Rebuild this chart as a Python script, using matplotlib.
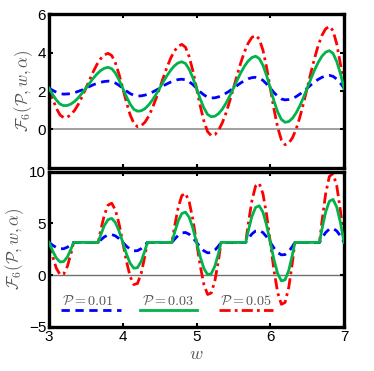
import matplotlib
matplotlib.use("Agg")
import matplotlib.pyplot as plt
from matplotlib.lines import Line2D

plt.rcParams['font.family'] = ['Liberation Sans', 'DejaVu Sans']
plt.rcParams['mathtext.fontset'] = 'cm'

# ---------------- data: top panel ----------------
w_top = [round(3 + 0.05 * i, 2) for i in range(81)]

top_p001 = [2.15, 2.04, 1.94, 1.87, 1.84, 1.85, 1.87, 1.92, 1.99, 2.06,
            2.15, 2.24, 2.33, 2.40, 2.46, 2.50, 2.52, 2.50, 2.42, 2.30,
            2.15, 2.00, 1.87, 1.78, 1.74, 1.75, 1.79, 1.85, 1.94, 2.04,
            2.15, 2.27, 2.38, 2.47, 2.55, 2.60, 2.62, 2.59, 2.49, 2.34,
            2.15, 1.96, 1.80, 1.68, 1.64, 1.65, 1.70, 1.78, 1.89, 2.01,
            2.15, 2.29, 2.43, 2.54, 2.64, 2.70, 2.72, 2.68, 2.56, 2.37,
            2.15, 1.92, 1.73, 1.59, 1.54, 1.56, 1.61, 1.71, 1.84, 1.99,
            2.15, 2.32, 2.48, 2.61, 2.72, 2.79, 2.82, 2.77, 2.63, 2.41,
            2.15]
top_p003 = [2.15, 1.82, 1.53, 1.32, 1.24, 1.25, 1.33, 1.47, 1.66, 1.90,
            2.15, 2.41, 2.67, 2.89, 3.07, 3.19, 3.24, 3.17, 2.94, 2.58,
            2.15, 1.71, 1.32, 1.05, 0.95, 0.97, 1.08, 1.27, 1.52, 1.82,
            2.15, 2.49, 2.81, 3.09, 3.32, 3.47, 3.53, 3.44, 3.14, 2.69,
            2.15, 1.59, 1.12, 0.78, 0.66, 0.69, 0.83, 1.06, 1.37, 1.74,
            2.15, 2.56, 2.96, 3.30, 3.57, 3.75, 3.82, 3.70, 3.35, 2.81,
            2.15, 1.48, 0.91, 0.52, 0.37, 0.41, 0.58, 0.86, 1.23, 1.67,
            2.15, 2.64, 3.10, 3.50, 3.82, 4.03, 4.11, 3.97, 3.55, 2.92,
            2.15]
top_p005 = [2.15, 1.59, 1.10, 0.75, 0.61, 0.64, 0.78, 1.01, 1.33, 1.72,
            2.15, 2.59, 3.01, 3.39, 3.69, 3.89, 3.97, 3.86, 3.47, 2.87,
            2.15, 1.41, 0.76, 0.32, 0.14, 0.19, 0.37, 0.68, 1.10, 1.60,
            2.15, 2.71, 3.25, 3.72, 4.09, 4.34, 4.44, 4.29, 3.80, 3.06,
            2.15, 1.23, 0.43, -0.12, -0.33, -0.27, -0.04, 0.35, 0.86, 1.48,
            2.15, 2.83, 3.48, 4.05, 4.50, 4.80, 4.91, 4.72, 4.14, 3.23,
            2.15, 1.05, 0.10, -0.55, -0.80, -0.72, -0.44, 0.01, 0.63, 1.36,
            2.15, 2.96, 3.72, 4.39, 4.91, 5.25, 5.38, 5.16, 4.47, 3.42,
            2.15]

# ---------------- data: bottom panel ----------------
w_bot = [3.00, 3.05, 3.10, 3.15, 3.20, 3.25, 3.30, 3.333, 3.667, 3.70, 3.75, 3.80, 3.85, 3.90, 3.95,
         4.00, 4.05, 4.10, 4.15, 4.20, 4.25, 4.30, 4.333, 4.667, 4.70, 4.75, 4.80, 4.85, 4.90, 4.95,
         5.00, 5.05, 5.10, 5.15, 5.20, 5.25, 5.30, 5.333, 5.667, 5.70, 5.75, 5.80, 5.85, 5.90, 5.95,
         6.00, 6.05, 6.10, 6.15, 6.20, 6.25, 6.30, 6.333, 6.667, 6.70, 6.75, 6.80, 6.85, 6.90, 6.95,
         7.00]
bot_p001 = [3.17, 2.89, 2.67, 2.55, 2.56, 2.71, 2.97, 3.17, 3.17, 3.40, 3.70, 3.89, 3.93, 3.80, 3.53,
            3.17, 2.80, 2.51, 2.35, 2.37, 2.57, 2.91, 3.17, 3.17, 3.46, 3.84, 4.08, 4.13, 3.96, 3.62,
            3.17, 2.71, 2.35, 2.16, 2.18, 2.43, 2.84, 3.17, 3.17, 3.52, 3.98, 4.27, 4.32, 4.12, 3.71,
            3.17, 2.62, 2.19, 1.96, 1.99, 2.29, 2.78, 3.17, 3.17, 3.58, 4.12, 4.46, 4.52, 4.28, 3.80,
            3.17]
bot_p003 = [3.17, 2.33, 1.65, 1.28, 1.32, 1.77, 2.55, 3.17, 3.17, 3.87, 4.79, 5.37, 5.49, 5.09, 4.26,
            3.17, 2.05, 1.15, 0.67, 0.73, 1.34, 2.36, 3.17, 3.17, 4.06, 5.22, 5.96, 6.10, 5.60, 4.55,
            3.17, 1.77, 0.64, 0.06, 0.14, 0.90, 2.17, 3.17, 3.17, 4.25, 5.66, 6.55, 6.71, 6.10, 4.83,
            3.17, 1.49, 0.14, -0.56, -0.45, 0.46, 1.98, 3.17, 3.17, 4.44, 6.10, 7.14, 7.33, 6.60, 5.11,
            3.17]
bot_p005 = [3.17, 1.78, 0.66, 0.05, 0.12, 0.87, 2.15, 3.17, 3.17, 4.31, 5.81, 6.77, 6.96, 6.31, 4.96,
            3.17, 1.34, -0.13, -0.91, -0.80, 0.18, 1.85, 3.17, 3.17, 4.61, 6.50, 7.69, 7.92, 7.10, 5.40,
            3.17, 0.90, -0.91, -1.87, -1.72, -0.50, 1.55, 3.17, 3.17, 4.91, 7.18, 8.62, 8.88, 7.88, 5.84,
            3.17, 0.46, -1.70, -2.82, -2.64, -1.19, 1.25, 3.17, 3.17, 5.21, 7.87, 9.54, 9.83, 8.67, 6.28,
            3.17]

labels = [r'$\mathcal{P}=0.01$', r'$\mathcal{P}=0.03$', r'$\mathcal{P}=0.05$']
x_ticks = [3, 4, 5, 6, 7]
top_yticks = [0, 2, 4, 6]
bot_yticks = [-5, 0, 5, 10]

# ---------------- styles ----------------
blue = '#0000ff'
green = '#00b34a'
red = '#ff0000'
st_blue = dict(color=blue, lw=2.0, linestyle=(0, (3, 2)))
st_green = dict(color=green, lw=2.0, linestyle='-')
st_red = dict(color=red, lw=2.0, linestyle=(0, (4, 1.5, 1, 1.5)))
label_color = '#555555'

fig = plt.figure(figsize=(3.74, 3.71), dpi=100)
ax1 = fig.add_axes([0.131, 0.548, 0.789, 0.413])
ax2 = fig.add_axes([0.131, 0.119, 0.789, 0.418])

for ax in (ax1, ax2):
    for sp in ax.spines.values():
        sp.set_linewidth(2.4)
        sp.set_color('black')
    ax.tick_params(direction='in', length=3, width=1.5, top=True, right=True,
                   labelsize=11, pad=2)
    ax.set_xlim(3, 7)
    ax.set_xticks(x_ticks)

ax1.axhline(0, color='#a0a0a0', lw=1.4, zorder=1)
ax1.plot(w_top, top_p001, **st_blue, zorder=3)
ax1.plot(w_top, top_p003, **st_green, zorder=4)
ax1.plot(w_top, top_p005, **st_red, zorder=2)
ax1.set_ylim(-2, 6)
ax1.set_yticks(top_yticks)
ax1.tick_params(labelbottom=False)
ax1.set_ylabel(r'$\mathcal{F}_6(\mathcal{P},w,\alpha)$', color=label_color, fontsize=12, labelpad=2)

ax2.axhline(0, color='#707070', lw=1.0, zorder=1)
ax2.plot(w_bot, bot_p001, **st_blue, zorder=3)
ax2.plot(w_bot, bot_p003, **st_green, zorder=4)
ax2.plot(w_bot, bot_p005, **st_red, zorder=2)
ax2.set_ylim(-5, 10)
ax2.set_yticks(bot_yticks)
ax2.set_ylabel(r'$\mathcal{F}_6(\mathcal{P},w,\alpha)$', color=label_color, fontsize=12, labelpad=2)
ax2.set_xlabel(r'$w$', color=label_color, fontsize=13, labelpad=2)

# legend: label text above each line sample
leg_x = [(0.04, 0.245), (0.31, 0.50), (0.575, 0.76)]
for (x0, x1), st, lab in zip(leg_x, [st_blue, st_green, st_red], labels):
    ax2.add_line(Line2D([x0, x1], [0.11, 0.11], transform=ax2.transAxes, **st))
    ax2.text(x0 + 0.005, 0.125, lab, transform=ax2.transAxes, color=label_color,
             fontsize=10.2, ha='left', va='bottom')

fig.savefig('out.png', dpi=100)
